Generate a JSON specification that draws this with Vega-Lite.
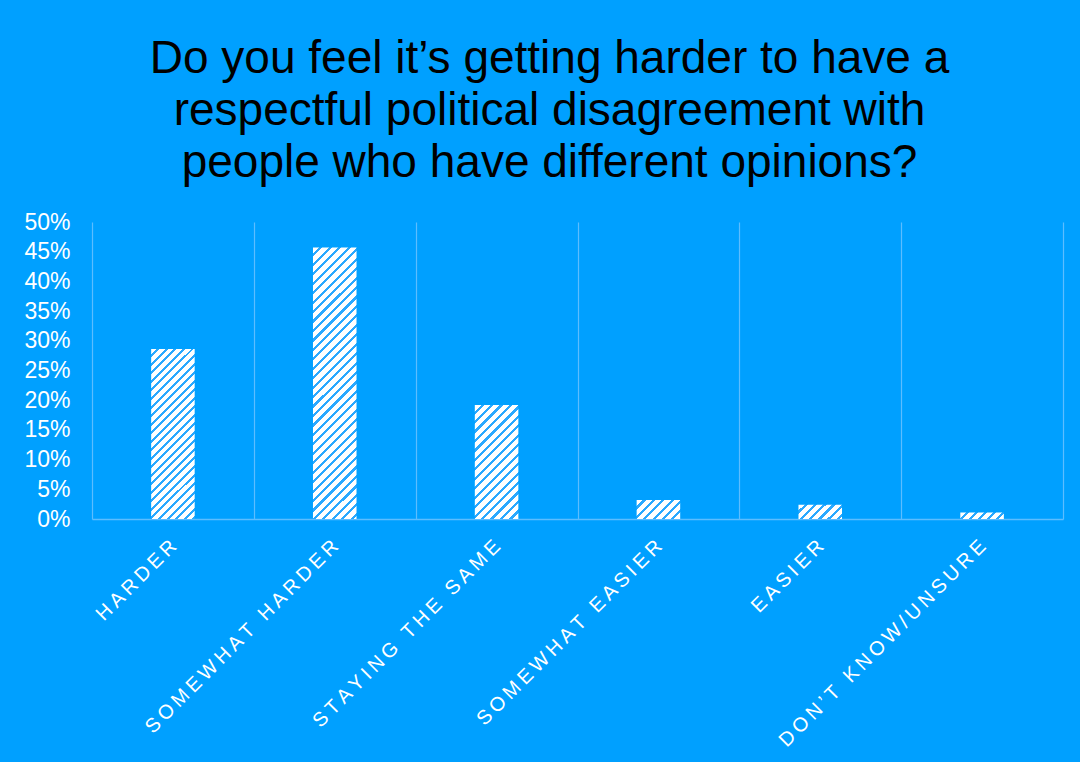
{
  "$schema": "https://vega.github.io/schema/vega-lite/v6.json",
  "width": 971,
  "height": 297,
  "autosize": "none",
  "padding": {"left": 92, "top": 222, "right": 17, "bottom": 243},
  "background": "#00A0FF",
  "config": {"view": {"stroke": null}, "font": "Liberation Sans"},
  "title": {
    "text": ["Do you feel it’s getting harder to have a", "respectful political disagreement with", "people who have different opinions?"],
    "font": "Liberation Sans",
    "fontSize": 46,
    "fontWeight": "normal",
    "color": "#000000",
    "lineHeight": 52,
    "anchor": "middle",
    "frame": "group",
    "dx": -28,
    "offset": 24
  },
  "data": {
    "values": [
      {"answer": "HARDER", "share": 0.286},
      {"answer": "SOMEWHAT HARDER", "share": 0.457},
      {"answer": "STAYING THE SAME", "share": 0.192},
      {"answer": "SOMEWHAT EASIER", "share": 0.032},
      {"answer": "EASIER", "share": 0.024},
      {"answer": "DON’T KNOW/UNSURE", "share": 0.011}
    ]
  },
  "mark": {"type": "bar", "width": {"band": 0.269}},
  "encoding": {
    "x": {
      "field": "answer",
      "type": "nominal",
      "sort": null,
      "scale": {"paddingInner": 0, "paddingOuter": 0},
      "axis": {
        "title": null,
        "labelAngle": -45,
        "labelFont": "Liberation Sans",
        "labelFontSize": 20,
        "labelColor": "#ffffff",
        "labelLimit": 500,
        "labelPadding": 17,
        "labelOffset": -7,
        "labelExpr": "join(split(datum.label, ''), '\u2009')",
        "ticks": false,
        "tickBand": "extent",
        "domain": true,
        "domainColor": "#5CBDFF",
        "domainWidth": 1.5,
        "grid": true,
        "gridColor": "#5CBDFF",
        "gridWidth": 1.2
      }
    },
    "y": {
      "field": "share",
      "type": "quantitative",
      "scale": {"domain": [0, 0.5], "nice": false},
      "axis": {
        "title": null,
        "values": [0, 0.05, 0.1, 0.15, 0.2, 0.25, 0.3, 0.35, 0.4, 0.45, 0.5],
        "format": ".0%",
        "labelFont": "Liberation Sans",
        "labelFontSize": 23,
        "labelColor": "#ffffff",
        "labelPadding": 22,
        "ticks": false,
        "domain": false,
        "grid": false
      }
    },
    "fill": {
      "condition": [
        {"test": "datum.answer === 'HARDER'", "value": {"gradient": "linear", "x1": 0, "y1": 0, "x2": 0.3016, "y2": 1.1787, "stops": [
          {"offset":0,"color":"#fff"},{"offset":0.026,"color":"#fff"},{"offset":0.026,"color":"#2aa9ff"},{"offset":0.04,"color":"#2aa9ff"},
          {"offset":0.04,"color":"#fff"},{"offset":0.066,"color":"#fff"},{"offset":0.066,"color":"#2aa9ff"},{"offset":0.08,"color":"#2aa9ff"},
          {"offset":0.08,"color":"#fff"},{"offset":0.106,"color":"#fff"},{"offset":0.106,"color":"#2aa9ff"},{"offset":0.12,"color":"#2aa9ff"},
          {"offset":0.12,"color":"#fff"},{"offset":0.146,"color":"#fff"},{"offset":0.146,"color":"#2aa9ff"},{"offset":0.16,"color":"#2aa9ff"},
          {"offset":0.16,"color":"#fff"},{"offset":0.186,"color":"#fff"},{"offset":0.186,"color":"#2aa9ff"},{"offset":0.2,"color":"#2aa9ff"},
          {"offset":0.2,"color":"#fff"},{"offset":0.226,"color":"#fff"},{"offset":0.226,"color":"#2aa9ff"},{"offset":0.24,"color":"#2aa9ff"},
          {"offset":0.24,"color":"#fff"},{"offset":0.266,"color":"#fff"},{"offset":0.266,"color":"#2aa9ff"},{"offset":0.28,"color":"#2aa9ff"},
          {"offset":0.28,"color":"#fff"},{"offset":0.306,"color":"#fff"},{"offset":0.306,"color":"#2aa9ff"},{"offset":0.32,"color":"#2aa9ff"},
          {"offset":0.32,"color":"#fff"},{"offset":0.346,"color":"#fff"},{"offset":0.346,"color":"#2aa9ff"},{"offset":0.36,"color":"#2aa9ff"},
          {"offset":0.36,"color":"#fff"},{"offset":0.386,"color":"#fff"},{"offset":0.386,"color":"#2aa9ff"},{"offset":0.4,"color":"#2aa9ff"},
          {"offset":0.4,"color":"#fff"},{"offset":0.426,"color":"#fff"},{"offset":0.426,"color":"#2aa9ff"},{"offset":0.44,"color":"#2aa9ff"},
          {"offset":0.44,"color":"#fff"},{"offset":0.466,"color":"#fff"},{"offset":0.466,"color":"#2aa9ff"},{"offset":0.48,"color":"#2aa9ff"},
          {"offset":0.48,"color":"#fff"},{"offset":0.506,"color":"#fff"},{"offset":0.506,"color":"#2aa9ff"},{"offset":0.52,"color":"#2aa9ff"},
          {"offset":0.52,"color":"#fff"},{"offset":0.546,"color":"#fff"},{"offset":0.546,"color":"#2aa9ff"},{"offset":0.56,"color":"#2aa9ff"},
          {"offset":0.56,"color":"#fff"},{"offset":0.586,"color":"#fff"},{"offset":0.586,"color":"#2aa9ff"},{"offset":0.6,"color":"#2aa9ff"},
          {"offset":0.6,"color":"#fff"},{"offset":0.626,"color":"#fff"},{"offset":0.626,"color":"#2aa9ff"},{"offset":0.64,"color":"#2aa9ff"},
          {"offset":0.64,"color":"#fff"},{"offset":0.666,"color":"#fff"},{"offset":0.666,"color":"#2aa9ff"},{"offset":0.68,"color":"#2aa9ff"},
          {"offset":0.68,"color":"#fff"},{"offset":0.706,"color":"#fff"},{"offset":0.706,"color":"#2aa9ff"},{"offset":0.72,"color":"#2aa9ff"},
          {"offset":0.72,"color":"#fff"},{"offset":0.746,"color":"#fff"},{"offset":0.746,"color":"#2aa9ff"},{"offset":0.76,"color":"#2aa9ff"},
          {"offset":0.76,"color":"#fff"},{"offset":0.786,"color":"#fff"},{"offset":0.786,"color":"#2aa9ff"},{"offset":0.8,"color":"#2aa9ff"},
          {"offset":0.8,"color":"#fff"},{"offset":0.826,"color":"#fff"},{"offset":0.826,"color":"#2aa9ff"},{"offset":0.84,"color":"#2aa9ff"},
          {"offset":0.84,"color":"#fff"},{"offset":0.866,"color":"#fff"},{"offset":0.866,"color":"#2aa9ff"},{"offset":0.88,"color":"#2aa9ff"},
          {"offset":0.88,"color":"#fff"},{"offset":0.906,"color":"#fff"},{"offset":0.906,"color":"#2aa9ff"},{"offset":0.92,"color":"#2aa9ff"},
          {"offset":0.92,"color":"#fff"},{"offset":0.946,"color":"#fff"},{"offset":0.946,"color":"#2aa9ff"},{"offset":0.96,"color":"#2aa9ff"},
          {"offset":0.96,"color":"#fff"},{"offset":0.986,"color":"#fff"},{"offset":0.986,"color":"#2aa9ff"},{"offset":1,"color":"#2aa9ff"}
        ]}},
        {"test": "datum.answer === 'SOMEWHAT HARDER'", "value": {"gradient": "linear", "x1": 0, "y1": 0, "x2": 0.1811, "y2": 1.1311, "stops": [
          {"offset":0,"color":"#fff"},{"offset":0.02,"color":"#fff"},{"offset":0.02,"color":"#2aa9ff"},{"offset":0.03,"color":"#2aa9ff"},
          {"offset":0.03,"color":"#fff"},{"offset":0.05,"color":"#fff"},{"offset":0.05,"color":"#2aa9ff"},{"offset":0.06,"color":"#2aa9ff"},
          {"offset":0.06,"color":"#fff"},{"offset":0.08,"color":"#fff"},{"offset":0.08,"color":"#2aa9ff"},{"offset":0.09,"color":"#2aa9ff"},
          {"offset":0.09,"color":"#fff"},{"offset":0.11,"color":"#fff"},{"offset":0.11,"color":"#2aa9ff"},{"offset":0.12,"color":"#2aa9ff"},
          {"offset":0.12,"color":"#fff"},{"offset":0.14,"color":"#fff"},{"offset":0.14,"color":"#2aa9ff"},{"offset":0.15,"color":"#2aa9ff"},
          {"offset":0.15,"color":"#fff"},{"offset":0.17,"color":"#fff"},{"offset":0.17,"color":"#2aa9ff"},{"offset":0.18,"color":"#2aa9ff"},
          {"offset":0.18,"color":"#fff"},{"offset":0.2,"color":"#fff"},{"offset":0.2,"color":"#2aa9ff"},{"offset":0.21,"color":"#2aa9ff"},
          {"offset":0.21,"color":"#fff"},{"offset":0.23,"color":"#fff"},{"offset":0.23,"color":"#2aa9ff"},{"offset":0.24,"color":"#2aa9ff"},
          {"offset":0.24,"color":"#fff"},{"offset":0.26,"color":"#fff"},{"offset":0.26,"color":"#2aa9ff"},{"offset":0.27,"color":"#2aa9ff"},
          {"offset":0.27,"color":"#fff"},{"offset":0.29,"color":"#fff"},{"offset":0.29,"color":"#2aa9ff"},{"offset":0.3,"color":"#2aa9ff"},
          {"offset":0.3,"color":"#fff"},{"offset":0.32,"color":"#fff"},{"offset":0.32,"color":"#2aa9ff"},{"offset":0.33,"color":"#2aa9ff"},
          {"offset":0.33,"color":"#fff"},{"offset":0.35,"color":"#fff"},{"offset":0.35,"color":"#2aa9ff"},{"offset":0.36,"color":"#2aa9ff"},
          {"offset":0.36,"color":"#fff"},{"offset":0.38,"color":"#fff"},{"offset":0.38,"color":"#2aa9ff"},{"offset":0.39,"color":"#2aa9ff"},
          {"offset":0.39,"color":"#fff"},{"offset":0.41,"color":"#fff"},{"offset":0.41,"color":"#2aa9ff"},{"offset":0.42,"color":"#2aa9ff"},
          {"offset":0.42,"color":"#fff"},{"offset":0.44,"color":"#fff"},{"offset":0.44,"color":"#2aa9ff"},{"offset":0.45,"color":"#2aa9ff"},
          {"offset":0.45,"color":"#fff"},{"offset":0.47,"color":"#fff"},{"offset":0.47,"color":"#2aa9ff"},{"offset":0.48,"color":"#2aa9ff"},
          {"offset":0.48,"color":"#fff"},{"offset":0.5,"color":"#fff"},{"offset":0.5,"color":"#2aa9ff"},{"offset":0.51,"color":"#2aa9ff"},
          {"offset":0.51,"color":"#fff"},{"offset":0.53,"color":"#fff"},{"offset":0.53,"color":"#2aa9ff"},{"offset":0.54,"color":"#2aa9ff"},
          {"offset":0.54,"color":"#fff"},{"offset":0.56,"color":"#fff"},{"offset":0.56,"color":"#2aa9ff"},{"offset":0.57,"color":"#2aa9ff"},
          {"offset":0.57,"color":"#fff"},{"offset":0.59,"color":"#fff"},{"offset":0.59,"color":"#2aa9ff"},{"offset":0.6,"color":"#2aa9ff"},
          {"offset":0.6,"color":"#fff"},{"offset":0.62,"color":"#fff"},{"offset":0.62,"color":"#2aa9ff"},{"offset":0.63,"color":"#2aa9ff"},
          {"offset":0.63,"color":"#fff"},{"offset":0.65,"color":"#fff"},{"offset":0.65,"color":"#2aa9ff"},{"offset":0.66,"color":"#2aa9ff"},
          {"offset":0.66,"color":"#fff"},{"offset":0.68,"color":"#fff"},{"offset":0.68,"color":"#2aa9ff"},{"offset":0.69,"color":"#2aa9ff"},
          {"offset":0.69,"color":"#fff"},{"offset":0.71,"color":"#fff"},{"offset":0.71,"color":"#2aa9ff"},{"offset":0.72,"color":"#2aa9ff"},
          {"offset":0.72,"color":"#fff"},{"offset":0.74,"color":"#fff"},{"offset":0.74,"color":"#2aa9ff"},{"offset":0.75,"color":"#2aa9ff"},
          {"offset":0.75,"color":"#fff"},{"offset":0.77,"color":"#fff"},{"offset":0.77,"color":"#2aa9ff"},{"offset":0.78,"color":"#2aa9ff"},
          {"offset":0.78,"color":"#fff"},{"offset":0.8,"color":"#fff"},{"offset":0.8,"color":"#2aa9ff"},{"offset":0.81,"color":"#2aa9ff"},
          {"offset":0.81,"color":"#fff"},{"offset":0.83,"color":"#fff"},{"offset":0.83,"color":"#2aa9ff"},{"offset":0.84,"color":"#2aa9ff"},
          {"offset":0.84,"color":"#fff"},{"offset":0.86,"color":"#fff"},{"offset":0.86,"color":"#2aa9ff"},{"offset":0.87,"color":"#2aa9ff"},
          {"offset":0.87,"color":"#fff"},{"offset":0.89,"color":"#fff"},{"offset":0.89,"color":"#2aa9ff"},{"offset":0.9,"color":"#2aa9ff"},
          {"offset":0.9,"color":"#fff"},{"offset":0.92,"color":"#fff"},{"offset":0.92,"color":"#2aa9ff"},{"offset":0.93,"color":"#2aa9ff"},
          {"offset":0.93,"color":"#fff"},{"offset":0.95,"color":"#fff"},{"offset":0.95,"color":"#2aa9ff"},{"offset":0.96,"color":"#2aa9ff"},
          {"offset":0.96,"color":"#fff"},{"offset":0.98,"color":"#fff"},{"offset":0.98,"color":"#2aa9ff"},{"offset":0.99,"color":"#2aa9ff"},
          {"offset":0.99,"color":"#fff"},{"offset":1,"color":"#fff"}
        ]}},
        {"test": "datum.answer === 'STAYING THE SAME'", "value": {"gradient": "linear", "x1": 0, "y1": 0, "x2": 0.4602, "y2": 1.206, "stops": [
          {"offset":0,"color":"#fff"},{"offset":0.04,"color":"#fff"},{"offset":0.04,"color":"#2aa9ff"},{"offset":0.06,"color":"#2aa9ff"},
          {"offset":0.06,"color":"#fff"},{"offset":0.1,"color":"#fff"},{"offset":0.1,"color":"#2aa9ff"},{"offset":0.12,"color":"#2aa9ff"},
          {"offset":0.12,"color":"#fff"},{"offset":0.16,"color":"#fff"},{"offset":0.16,"color":"#2aa9ff"},{"offset":0.18,"color":"#2aa9ff"},
          {"offset":0.18,"color":"#fff"},{"offset":0.22,"color":"#fff"},{"offset":0.22,"color":"#2aa9ff"},{"offset":0.24,"color":"#2aa9ff"},
          {"offset":0.24,"color":"#fff"},{"offset":0.28,"color":"#fff"},{"offset":0.28,"color":"#2aa9ff"},{"offset":0.3,"color":"#2aa9ff"},
          {"offset":0.3,"color":"#fff"},{"offset":0.34,"color":"#fff"},{"offset":0.34,"color":"#2aa9ff"},{"offset":0.36,"color":"#2aa9ff"},
          {"offset":0.36,"color":"#fff"},{"offset":0.4,"color":"#fff"},{"offset":0.4,"color":"#2aa9ff"},{"offset":0.42,"color":"#2aa9ff"},
          {"offset":0.42,"color":"#fff"},{"offset":0.46,"color":"#fff"},{"offset":0.46,"color":"#2aa9ff"},{"offset":0.48,"color":"#2aa9ff"},
          {"offset":0.48,"color":"#fff"},{"offset":0.52,"color":"#fff"},{"offset":0.52,"color":"#2aa9ff"},{"offset":0.54,"color":"#2aa9ff"},
          {"offset":0.54,"color":"#fff"},{"offset":0.58,"color":"#fff"},{"offset":0.58,"color":"#2aa9ff"},{"offset":0.6,"color":"#2aa9ff"},
          {"offset":0.6,"color":"#fff"},{"offset":0.64,"color":"#fff"},{"offset":0.64,"color":"#2aa9ff"},{"offset":0.66,"color":"#2aa9ff"},
          {"offset":0.66,"color":"#fff"},{"offset":0.7,"color":"#fff"},{"offset":0.7,"color":"#2aa9ff"},{"offset":0.72,"color":"#2aa9ff"},
          {"offset":0.72,"color":"#fff"},{"offset":0.76,"color":"#fff"},{"offset":0.76,"color":"#2aa9ff"},{"offset":0.78,"color":"#2aa9ff"},
          {"offset":0.78,"color":"#fff"},{"offset":0.82,"color":"#fff"},{"offset":0.82,"color":"#2aa9ff"},{"offset":0.84,"color":"#2aa9ff"},
          {"offset":0.84,"color":"#fff"},{"offset":0.88,"color":"#fff"},{"offset":0.88,"color":"#2aa9ff"},{"offset":0.9,"color":"#2aa9ff"},
          {"offset":0.9,"color":"#fff"},{"offset":0.94,"color":"#fff"},{"offset":0.94,"color":"#2aa9ff"},{"offset":0.96,"color":"#2aa9ff"},
          {"offset":0.96,"color":"#fff"},{"offset":1,"color":"#fff"}
        ]}},
        {"test": "datum.answer === 'SOMEWHAT EASIER'", "value": {"gradient": "linear", "x1": 0, "y1": 0, "x2": 1.2067, "y2": 0.5271, "stops": [
          {"offset":0,"color":"#fff"},{"offset":0.1,"color":"#fff"},{"offset":0.1,"color":"#2aa9ff"},{"offset":0.15,"color":"#2aa9ff"},
          {"offset":0.15,"color":"#fff"},{"offset":0.25,"color":"#fff"},{"offset":0.25,"color":"#2aa9ff"},{"offset":0.3,"color":"#2aa9ff"},
          {"offset":0.3,"color":"#fff"},{"offset":0.4,"color":"#fff"},{"offset":0.4,"color":"#2aa9ff"},{"offset":0.45,"color":"#2aa9ff"},
          {"offset":0.45,"color":"#fff"},{"offset":0.55,"color":"#fff"},{"offset":0.55,"color":"#2aa9ff"},{"offset":0.6,"color":"#2aa9ff"},
          {"offset":0.6,"color":"#fff"},{"offset":0.7,"color":"#fff"},{"offset":0.7,"color":"#2aa9ff"},{"offset":0.75,"color":"#2aa9ff"},
          {"offset":0.75,"color":"#fff"},{"offset":0.85,"color":"#fff"},{"offset":0.85,"color":"#2aa9ff"},{"offset":0.9,"color":"#2aa9ff"},
          {"offset":0.9,"color":"#fff"},{"offset":1,"color":"#fff"}
        ]}},
        {"test": "datum.answer === 'EASIER'", "value": {"gradient": "linear", "x1": 0, "y1": 0, "x2": 1.1996, "y2": 0.3944, "stops": [
          {"offset":0,"color":"#fff"},{"offset":0.1,"color":"#fff"},{"offset":0.1,"color":"#2aa9ff"},{"offset":0.16,"color":"#2aa9ff"},
          {"offset":0.16,"color":"#fff"},{"offset":0.26,"color":"#fff"},{"offset":0.26,"color":"#2aa9ff"},{"offset":0.32,"color":"#2aa9ff"},
          {"offset":0.32,"color":"#fff"},{"offset":0.42,"color":"#fff"},{"offset":0.42,"color":"#2aa9ff"},{"offset":0.48,"color":"#2aa9ff"},
          {"offset":0.48,"color":"#fff"},{"offset":0.58,"color":"#fff"},{"offset":0.58,"color":"#2aa9ff"},{"offset":0.64,"color":"#2aa9ff"},
          {"offset":0.64,"color":"#fff"},{"offset":0.74,"color":"#fff"},{"offset":0.74,"color":"#2aa9ff"},{"offset":0.8,"color":"#2aa9ff"},
          {"offset":0.8,"color":"#fff"},{"offset":0.9,"color":"#fff"},{"offset":0.9,"color":"#2aa9ff"},{"offset":0.96,"color":"#2aa9ff"},
          {"offset":0.96,"color":"#fff"},{"offset":1,"color":"#fff"}
        ]}}
      ],
      "value": {"gradient": "linear", "x1": 0, "y1": 0, "x2": 1.1246, "y2": 0.168, "stops": [
        {"offset":0,"color":"#fff"},{"offset":0.12,"color":"#fff"},{"offset":0.12,"color":"#2aa9ff"},{"offset":0.18,"color":"#2aa9ff"},
        {"offset":0.18,"color":"#fff"},{"offset":0.3,"color":"#fff"},{"offset":0.3,"color":"#2aa9ff"},{"offset":0.36,"color":"#2aa9ff"},
        {"offset":0.36,"color":"#fff"},{"offset":0.48,"color":"#fff"},{"offset":0.48,"color":"#2aa9ff"},{"offset":0.54,"color":"#2aa9ff"},
        {"offset":0.54,"color":"#fff"},{"offset":0.66,"color":"#fff"},{"offset":0.66,"color":"#2aa9ff"},{"offset":0.72,"color":"#2aa9ff"},
        {"offset":0.72,"color":"#fff"},{"offset":0.84,"color":"#fff"},{"offset":0.84,"color":"#2aa9ff"},{"offset":0.9,"color":"#2aa9ff"},
        {"offset":0.9,"color":"#fff"},{"offset":1,"color":"#fff"}
      ]}
    }
  }
}
